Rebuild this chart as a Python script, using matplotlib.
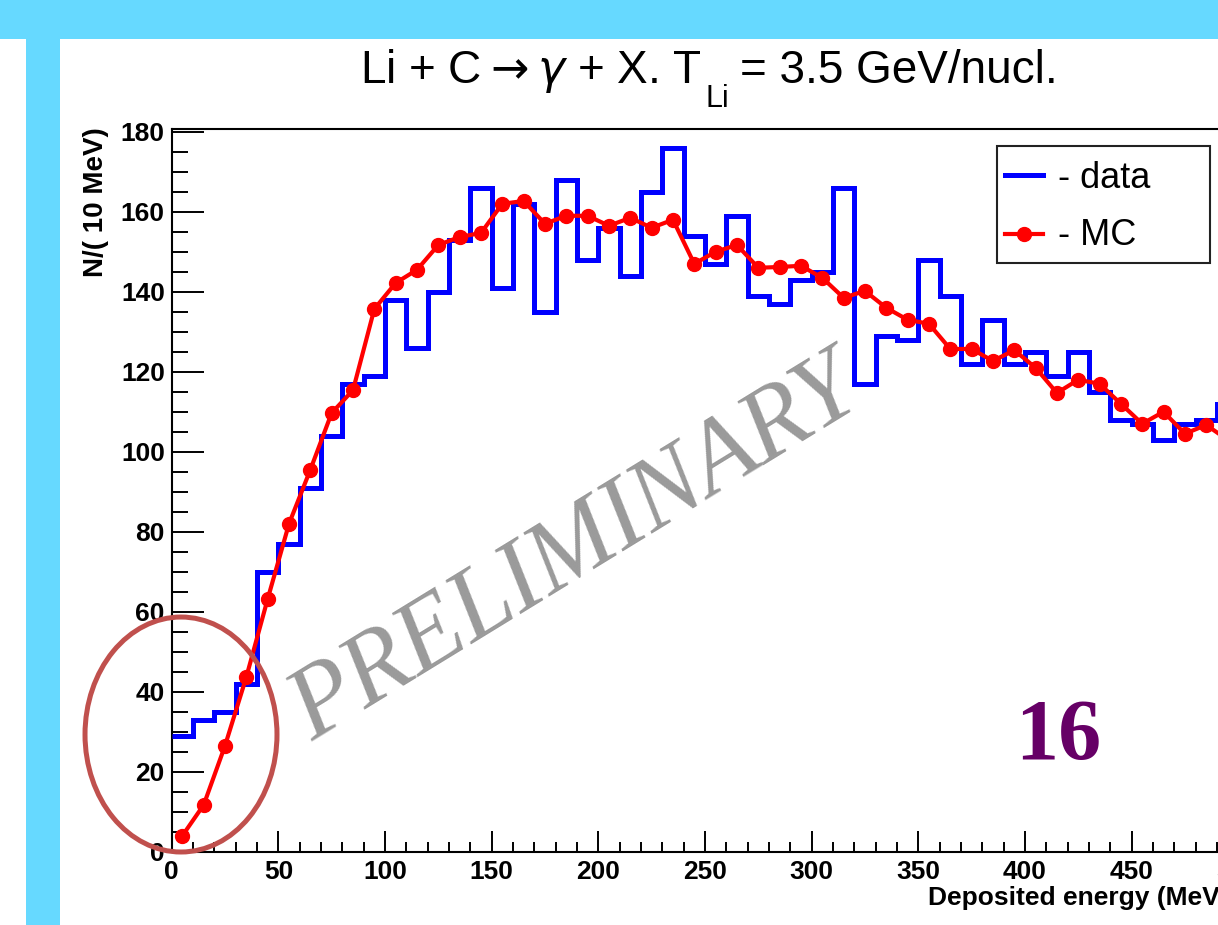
import numpy as np
import matplotlib
matplotlib.use("Agg")
import matplotlib.pyplot as plt
from matplotlib.patches import Ellipse, Rectangle
from matplotlib.lines import Line2D
from matplotlib.ticker import MultipleLocator

plt.rcParams['font.family'] = ['Liberation Sans', 'DejaVu Sans']

# ---------------- data (10 MeV bins) ----------------
bin_edges = np.arange(0, 510, 10)
bin_centers = bin_edges[:-1] + 5

data_counts = [29, 33, 35, 42, 70, 77, 91, 104, 117, 119,
               138, 126, 140, 153, 166, 141, 162, 135, 168, 148,
               156, 144, 165, 176, 154, 147, 159, 139, 137, 143,
               145, 166, 117, 129, 128, 148, 139, 122, 133, 122,
               125, 119, 125, 115, 108, 107, 103, 107, 108, 112]

mc_counts = [4, 11.7, 26.5, 43.7, 63.2, 82, 95.5, 109.7, 115.4, 135.7,
             142.2, 145.5, 151.7, 153.7, 154.7, 162, 162.7, 157, 159, 159,
             156.5, 158.5, 156, 158, 147, 150, 151.7, 146, 146.2, 146.5,
             143.5, 138.5, 140.2, 136, 133, 132, 125.7, 125.7, 122.7, 125.4,
             121, 114.7, 118, 117, 112, 107, 110, 104.5, 106.7, 103]

title_main = r"Li + C$\rightarrow$$\gamma$ + X. T"
title_sub = "Li"
title_rest = "= 3.5 GeV/nucl."
x_label = "Deposited energy (MeV)"
y_label = "N/( 10 MeV)"
legend_labels = ["- data", "- MC"]

# ---------------- figure ----------------
W, H = 1218, 925
fig = plt.figure(figsize=(W / 100, H / 100), dpi=100)
fig.patch.set_facecolor('white')


def fx(px):
    return px / W


def fy(py):
    return 1 - py / H


slide_blue = '#66D9FF'
fig.add_artist(Rectangle((0, fy(39)), 1, 39 / H, transform=fig.transFigure,
                         facecolor=slide_blue, edgecolor='none', zorder=0))
fig.add_artist(Rectangle((fx(26), 0), 34 / W, fy(39), transform=fig.transFigure,
                         facecolor=slide_blue, edgecolor='none', zorder=0))

ax = fig.add_axes([fx(171.7), fy(851.7), (1238.2 - 171.7) / W, (851.7 - 129) / H])
ax.set_xlim(0, 500)
ax.set_ylim(0, 180.7)

ax.stairs(data_counts, bin_edges, baseline=None, color='#0000FF',
          linewidth=3.6, joinstyle='miter', zorder=3)
ax.plot(bin_centers, mc_counts, '-o', color='#FF0000', linewidth=3,
        markersize=10, zorder=4)

# axes styling (ROOT-like)
ax.xaxis.set_major_locator(MultipleLocator(50))
ax.xaxis.set_minor_locator(MultipleLocator(10))
ax.yaxis.set_major_locator(MultipleLocator(20))
ax.yaxis.set_minor_locator(MultipleLocator(5))
ax.tick_params(axis='x', which='major', direction='in', length=15, width=1.4,
               labelsize=19, pad=6, top=False)
ax.tick_params(axis='x', which='minor', direction='in', length=7.2, width=1.4, top=False)
ax.tick_params(axis='y', which='major', direction='in', length=23, width=1.4,
               labelsize=19, pad=5, right=False)
ax.tick_params(axis='y', which='minor', direction='in', length=11.5, width=1.4, right=False)
plt.setp(ax.get_xticklabels() + ax.get_yticklabels(), fontweight='bold')
for s in ax.spines.values():
    s.set_linewidth(1.5)
    s.set_color('black')

# axis labels (ROOT style: aligned to axis ends)
fig.text(fx(96), fy(127), y_label, rotation=90, ha='center', va='top',
         fontsize=20, fontweight='bold')
fig.text(fx(1229), fy(886), x_label, ha='right', va='top',
         fontsize=19, fontweight='bold')

# title
fig.text(fx(702), fy(83), title_main, ha='right', va='baseline', fontsize=33)
fig.text(fx(706), fy(107), title_sub, ha='left', va='baseline', fontsize=22)
fig.text(fx(740), fy(83), title_rest, ha='left', va='baseline', fontsize=33)

# legend (drawn ROOT-style box)
fig.add_artist(Rectangle((fx(997), fy(263)), (1210 - 997) / W, (263 - 146) / H,
                         transform=fig.transFigure, facecolor='white',
                         edgecolor='#222222', linewidth=1.5, zorder=5))
fig.add_artist(Line2D([fx(1005), fx(1043)], [fy(175), fy(175)], transform=fig.transFigure,
                      color='#0000FF', linewidth=3.6, zorder=6))
fig.add_artist(Line2D([fx(1005), fx(1043)], [fy(234), fy(234)], transform=fig.transFigure,
                      color='#FF0000', linewidth=3, zorder=6))
fig.add_artist(Line2D([fx(1024)], [fy(234)], transform=fig.transFigure, marker='o',
                      color='#FF0000', markersize=10, zorder=6))
fig.text(fx(1058), fy(188), legend_labels[0], ha='left', va='baseline',
         fontsize=26, zorder=7)
fig.text(fx(1058), fy(245), legend_labels[1], ha='left', va='baseline',
         fontsize=26, zorder=7)

# watermark
ax.text(fx(576), fy(551), "PRELIMINARY", transform=fig.transFigure,
        rotation=31.5, rotation_mode='anchor', ha='center', va='center',
        fontsize=74, family=['Liberation Serif', 'DejaVu Serif'], style='italic',
        color='#9A9A9A', zorder=1, clip_on=False)

# slide number
fig.text(fx(1058), fy(738), "16", ha='center', va='center', fontsize=62,
         family=['Liberation Serif', 'DejaVu Serif'], fontweight='bold',
         color='#660066', zorder=7)

# highlight ellipse
ax.add_patch(Ellipse((4.36, 29.3), 90, 58.75, fill=False, edgecolor='#C0504D',
                     linewidth=3.6, clip_on=False, zorder=10))

fig.savefig("out.png", dpi=100, facecolor='white')
